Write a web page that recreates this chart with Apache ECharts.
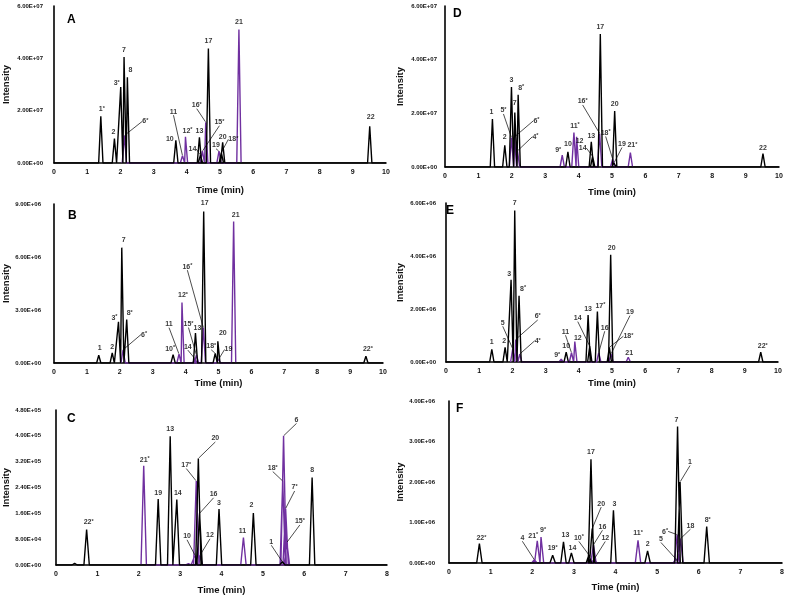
<!DOCTYPE html>
<html><head><meta charset="utf-8">
<script src="https://cdn.jsdelivr.net/npm/echarts@6/dist/echarts.min.js"></script>
<style>html,body{margin:0;padding:0;background:#fff}#c{width:787px;height:597px}</style>
</head><body><div id="c"></div>
<script>
// ---------------- DATA ----------------
// trace: 'k' = black chromatogram, 'p' = purple chromatogram
const A_names   = ['1*','2','3*','7','8','6*','10','11','12*','13','14','15*','16*','17','19','18*','20','21','22'];
const A_times   = [1.41,1.82,2.01,2.11,2.21,2.12,3.67,3.87,3.96,4.38,4.41,4.47,4.57,4.65,4.97,5.04,5.08,5.57,9.51];
const A_heights = [1.79e7,0.93e7,2.90e7,4.05e7,3.28e7,1.05e7,0.87e7,0.28e7,1.00e7,0.98e7,0.30e7,0.45e7,1.56e7,4.38e7,0.45e7,0.40e7,0.79e7,5.10e7,1.40e7];
const A_traces  = ['k','k','k','k','k','p','k','p','p','k','k','p','p','k','p','k','k','p','k'];
const A_xTicks  = [0,1,2,3,4,5,6,7,8,9,10];
const A_yTicks  = [0,2e7,4e7,6e7];

const B_names   = ['1','2','3*','7','6*','8*','10*','11','12*','14','15*','13','16*','17','18*','20','19','21','22*'];
const B_times   = [1.36,1.77,1.96,2.06,2.10,2.21,3.62,3.80,3.89,4.28,4.33,4.30,4.54,4.55,4.90,4.98,5.00,5.46,9.48];
const B_heights = [0.44e6,0.57e6,2.33e6,6.53e6,0.75e6,2.46e6,0.47e6,0.50e6,3.43e6,0.25e6,0.45e6,1.70e6,2.0e6,8.58e6,0.55e6,1.23e6,0.20e6,8.01e6,0.38e6];
const B_traces  = ['k','k','k','k','p','k','k','p','p','p','p','k','p','k','k','k','p','p','k'];
const B_xTicks  = [0,1,2,3,4,5,6,7,8,9,10];
const B_yTicks  = [0,3e6,6e6,9e6];

const C_names   = ['','22*','21*','19','13','14','','10','17*','20','16','12','3','11','2','1','18*','6','7*','15*','8'];
const C_times   = [0.45,0.74,2.12,2.47,2.76,2.92,3.20,3.36,3.39,3.44,3.47,3.48,3.94,4.53,4.77,5.47,5.48,5.50,5.55,5.58,6.19];
const C_heights = [0.05e5,1.10e5,3.07e5,2.04e5,3.99e5,2.03e5,0.04e5,0.30e5,2.60e5,3.30e5,1.60e5,0.30e5,1.73e5,0.85e5,1.61e5,0.10e5,2.60e5,4.00e5,1.75e5,0.70e5,2.71e5];
const C_traces  = ['k','k','p','k','k','k','p','p','p','k','k','p','k','p','k','k','p','p','p','p','k'];
const C_xTicks  = [0,1,2,3,4,5,6,7,8];
const C_yTicks  = [0,0.8e5,1.6e5,2.4e5,3.2e5,4.0e5,4.8e5];

const D_names   = ['1','2','5*','3','6*','7','4*','8*','9*','10','11*','12','13','14','16*','17','18*','19','20','21*','22'];
const D_times   = [1.42,1.79,1.99,1.99,2.08,2.09,2.17,2.19,3.51,3.68,3.86,3.94,4.38,4.42,4.63,4.65,5.02,5.06,5.08,5.55,9.52];
const D_heights = [1.79e7,0.81e7,1.10e7,2.98e7,1.12e7,2.03e7,0.60e7,2.69e7,0.44e7,0.56e7,1.28e7,1.13e7,0.94e7,0.40e7,1.25e7,4.96e7,0.30e7,0.15e7,2.09e7,0.54e7,0.50e7];
const D_traces  = ['k','k','p','k','p','k','p','k','p','k','p','p','k','k','p','k','p','k','k','p','k'];
const D_xTicks  = [0,1,2,3,4,5,6,7,8,9,10];
const D_yTicks  = [0,2e7,4e7,6e7];

const E_names   = ['1','2','3','5','7','6*','8*','4*','9*','10','11','12','13','14','17*','16','18*','20','19','21','22*'];
const E_times   = [1.38,1.78,1.96,2.01,2.07,2.10,2.20,2.22,3.47,3.62,3.78,3.88,4.28,4.33,4.56,4.60,4.92,4.96,4.97,5.49,9.48];
const E_heights = [0.48e6,0.55e6,3.10e6,0.50e6,5.72e6,0.85e6,2.50e6,0.30e6,0.11e6,0.37e6,0.35e6,0.77e6,1.77e6,0.60e6,1.90e6,0.35e6,0.55e6,4.05e6,0.30e6,0.18e6,0.37e6];
const E_traces  = ['k','k','k','p','k','p','k','p','p','k','p','p','k','k','k','p','k','k','p','p','k'];
const E_xTicks  = [0,1,2,3,4,5,6,7,8,9,10];
const E_yTicks  = [0,2e6,4e6,6e6];

const F_names   = ['22*','4','21*','9*','19*','13','14','10*','17','20','16','12','3','11*','2','5','6*','7','1','18','8*'];
const F_times   = [0.73,2.05,2.12,2.21,2.49,2.75,2.94,3.36,3.41,3.44,3.47,3.49,3.95,4.54,4.77,5.45,5.48,5.49,5.55,5.56,6.19];
const F_heights = [0.48e6,0.08e6,0.55e6,0.64e6,0.19e6,0.52e6,0.25e6,0.20e6,2.56e6,0.85e6,0.45e6,0.10e6,1.30e6,0.56e6,0.30e6,0.10e6,0.70e6,3.37e6,2.00e6,0.60e6,0.90e6];
const F_traces  = ['k','p','p','p','k','k','k','k','k','k','p','p','k','p','k','p','p','k','k','p','k'];
const F_xTicks  = [0,1,2,3,4,5,6,7,8];
const F_yTicks  = [0,1e6,2e6,3e6,4e6];

// ---------------- LAYOUT / STYLE ----------------
const FONT = '"Liberation Sans", Arial, sans-serif';
const BLACK = '#000000', PURPLE = '#7030A0';
const HW = 0.065; // peak half width (min)

// label offsets [dx, dy, leader] relative to peak apex (px)
const OFFS = {
 A:{'1*':[1,-7],'2':[-1,-7],'3*':[-4,-4],'7':[0,-7],'8':[3,-7],'6*':[21,-14,1],'10':[-6,-1],'11':[-9,-44,1],'12*':[2,-6],'13':[0,-6],'14':[-8,-6,1],'15*':[17,-29,1],'16*':[-9,-17,1],'17':[0,-7],'19':[-3,-6,1],'18*':[12,-13,1],'20':[0,-5],'21':[0,-7],'22':[1,-9]},
 B:{'1':[1,-7],'2':[0,-6],'3*':[-4,-4],'7':[2,-8],'8*':[3,-6],'6*':[21,-15,1],'10*':[-3,-6],'11':[-10,-30,1],'12*':[1,-7],'15*':[-8,-31,1],'14':[-7,-12,1],'13':[2,-5],'16*':[-16,-61,1],'17':[1,-8],'18*':[-4,-7,1],'20':[5,-8],'19':[10,-10,1],'21':[2,-6],'22*':[2,-7]},
 C:{'22*':[2,-7],'21*':[1,-6],'19':[0,-6],'13':[0,-7],'14':[1,-6],'10':[-8,-19,1],'17*':[-10,-16,1],'20':[17,-20,1],'16':[14,-19,1],'12':[10,-20,1],'3':[0,-6],'11':[-1,-6],'2':[-2,-8],'1':[-11,-20,1],'18*':[-10,-13,1],'6':[13,-16,1],'7*':[9,-21,1],'15*':[13,-21,1],'8':[0,-7]},
 D:{'1':[-1,-7],'2':[0,-8],'3':[0,-7],'7':[0,-9],'8*':[3,-7],'5*':[-8,-27,1],'6*':[22,-16,1],'4*':[18,-14,1],'9*':[-4,-5],'10':[0,-8],'11*':[1,-7],'12':[3,4],'13':[0,-6],'14':[-10,-8,1],'16*':[-17,-32,1],'17':[0,-7],'18*':[-7,-26,1],'19':[8,-19,1],'20':[0,-7],'21*':[2,-7],'22':[0,-6]},
 E:{'1':[0,-7],'2':[-1,-6],'3':[-2,-6],'7':[0,-7],'8*':[4,-7],'5':[-10,-26,1],'6*':[22,-23,1],'4*':[18,-13,1],'9*':[-4,-4],'10':[0,-6],'11':[-6,-21,1],'12':[3,-4],'13':[0,-6],'14':[-12,-28,1],'17*':[3,-6],'16':[6,-25,1],'20':[1,-7],'19':[19,-42,1],'18*':[19,-11,1],'21':[1,-4],'22*':[2,-6]},
 F:{'22*':[2,-5],'4':[-12,-22,1],'21*':[-4,-5],'9*':[2,-7],'19*':[0,-7],'13':[2,-7],'14':[1,-5],'10*':[-10,-17,1],'17':[0,-7],'20':[9,-25,1],'16':[9,-18,1],'12':[11,-21,1],'3':[1,-6],'11*':[0,-7],'2':[0,-7],'7':[-1,-6],'1':[10,-20,1],'6*':[-12,-3,1],'5':[-15,-20,1],'18':[10,-13,1],'8*':[1,-6]}
};

const PANELS = [
 {key:'A', n:A_names, t:A_times, h:A_heights, tr:A_traces, xt:A_xTicks, yt:A_yTicks, grid:{left:53,top:6,width:333,height:157}, letter:[67,14], gx:22, gy:43, ym:11},
 {key:'B', n:B_names, t:B_times, h:B_heights, tr:B_traces, xt:B_xTicks, yt:B_yTicks, grid:{left:53,top:204,width:330,height:159}, letter:[68,210], gx:15, gy:43, ym:13},
 {key:'C', n:C_names, t:C_times, h:C_heights, tr:C_traces, xt:C_xTicks, yt:C_yTicks, grid:{left:55,top:410,width:332,height:155}, letter:[67,413], gx:20, gy:45, ym:15},
 {key:'D', n:D_names, t:D_times, h:D_heights, tr:D_traces, xt:D_xTicks, yt:D_yTicks, grid:{left:445,top:6,width:334,height:161}, letter:[453,8], gx:20, gy:40, ym:8},
 {key:'E', n:E_names, t:E_times, h:E_heights, tr:E_traces, xt:E_xTicks, yt:E_yTicks, grid:{left:446,top:203,width:332,height:159}, letter:[446,205], gx:16, gy:41, ym:10},
 {key:'F', n:F_names, t:F_times, h:F_heights, tr:F_traces, xt:F_xTicks, yt:F_yTicks, grid:{left:449,top:401,width:334,height:162}, letter:[456,403], gx:19, gy:40, ym:14}
];

function fmtY(v){
  if (v === 0) return '0.00E+00';
  const s = v.toExponential(2).split('e');
  const n = parseInt(s[1],10);
  return s[0] + 'E' + (n<0?'-':'+') + String(Math.abs(n)).padStart(2,'0');
}
function fmtName(name){
  if (name.endsWith('*')) return '{n|' + name.slice(0,-1) + '}{s|*}';
  return '{n|' + name + '}';
}
function buildTrace(p, which, baseline){
  const idx = p.t.map((_,i)=>i).filter(i=>p.tr[i]===which).sort((a,b)=>p.t[a]-p.t[b]);
  const pts = [];
  const x0 = p.xt[0], x1 = p.xt[p.xt.length-1];
  if (baseline) pts.push([x0,0]);
  idx.forEach(i=>{ pts.push([p.t[i]-HW,0],[p.t[i],p.h[i]],[p.t[i]+HW,0]); });
  if (baseline) pts.push([x1,0]);
  return pts;
}

const grids=[], xAxes=[], yAxes=[], series=[], titles=[];
PANELS.forEach((p,i)=>{
  grids.push(Object.assign({containLabel:false}, p.grid));
  titles.push({text:p.key, left:p.letter[0], top:p.letter[1], padding:0,
    textStyle:{fontFamily:FONT, fontSize:12, fontWeight:'bold', color:'#000'}});
  xAxes.push({type:'value', gridIndex:i, min:p.xt[0], max:p.xt[p.xt.length-1], interval:p.xt[1]-p.xt[0],
    axisLine:{show:true, onZero:false, lineStyle:{color:'#000', width:1.6}},
    axisTick:{show:false}, splitLine:{show:false},
    axisLabel:{fontFamily:FONT, fontSize:7, fontWeight:'bold', color:'#111', margin:6},
    name:'Time (min)', nameLocation:'middle', nameGap:p.gx,
    nameTextStyle:{fontFamily:FONT, fontSize:9.5, fontWeight:'bold', color:'#111'}});
  yAxes.push({type:'value', gridIndex:i, min:p.yt[0], max:p.yt[p.yt.length-1], interval:p.yt[1]-p.yt[0],
    axisLine:{show:true, lineStyle:{color:'#000', width:1.6}},
    axisTick:{show:false}, splitLine:{show:false},
    axisLabel:{fontFamily:FONT, fontSize:6, fontWeight:'bold', color:'#111', margin:p.ym, formatter:fmtY},
    name:'Intensity', nameLocation:'middle', nameGap:p.gy, nameRotate:90,
    nameTextStyle:{fontFamily:FONT, fontSize:9.5, fontWeight:'bold', color:'#111'}});
  series.push({type:'line', xAxisIndex:i, yAxisIndex:i, data:buildTrace(p,'p',false), showSymbol:false, symbol:'none',
    lineStyle:{color:PURPLE, width:1.4}, z:2, silent:true, animation:false});
  series.push({type:'line', xAxisIndex:i, yAxisIndex:i, data:buildTrace(p,'k',true), showSymbol:false, symbol:'none',
    lineStyle:{color:BLACK, width:1.4}, z:3, silent:true, animation:false});
  const offs = OFFS[p.key];
  const lab = [];
  p.n.forEach((nm,j)=>{
    if (!nm) return;
    const o = offs[nm] || [0,-7];
    lab.push({name:nm, value:[p.t[j], p.h[j]], _o:o, labelLine:{show: !!o[2]}});
  });
  const offList = lab.map(d=>d._o);
  series.push({type:'scatter', xAxisIndex:i, yAxisIndex:i, symbolSize:1, z:10, silent:true, animation:false,
    itemStyle:{color:'rgba(0,0,0,0)'},
    data: lab.map(d=>({name:d.name, value:d.value, labelLine:d.labelLine})),
    label:{show:true, position:'inside', color:'#000', formatter:(q)=>fmtName(q.name),
      rich:{n:{fontFamily:FONT, fontSize:7, fontWeight:'bold', color:'#000', lineHeight:8},
            s:{fontFamily:FONT, fontSize:5.5, fontWeight:'bold', color:'#000', lineHeight:5, verticalAlign:'top'}}},
    labelLine:{lineStyle:{color:'#000', width:0.7}},
    labelLayout:(params)=>{ const o = offList[params.dataIndex]; return {dx:o[0], dy:o[1]}; }
  });
});

const chart = echarts.init(document.getElementById('c'), null, {renderer:'canvas'});
chart.setOption({animation:false, backgroundColor:'#fff', title:titles, grid:grids, xAxis:xAxes, yAxis:yAxes, series:series});
</script></body></html>
